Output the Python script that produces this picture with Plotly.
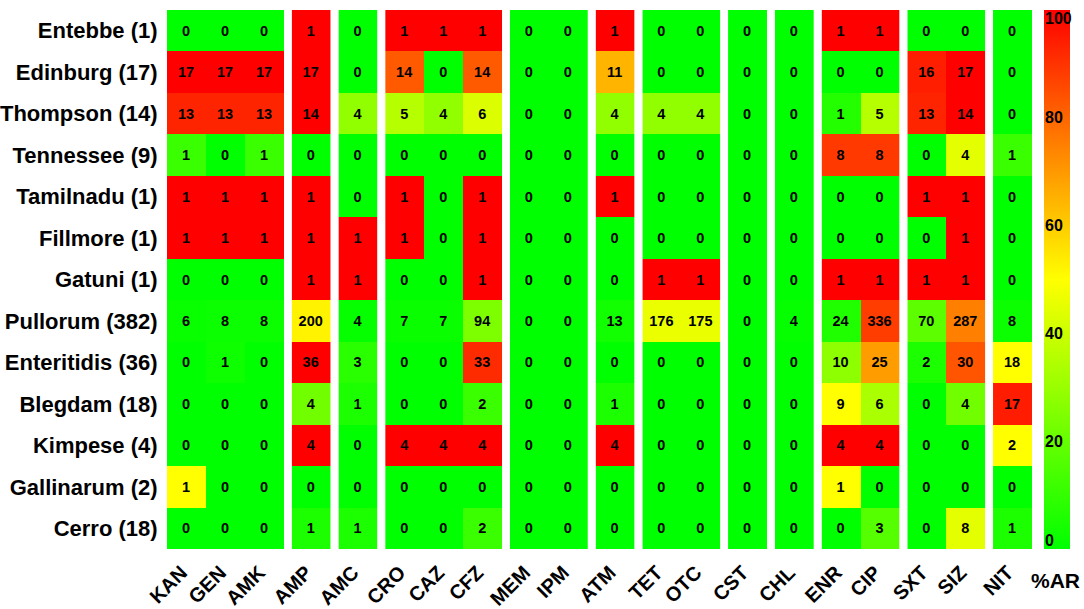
import plotly.graph_objects as go
from plotly.subplots import make_subplots

serovars = ['Entebbe', 'Edinburg', 'Thompson', 'Tennessee', 'Tamilnadu', 'Fillmore', 'Gatuni',
            'Pullorum', 'Enteritidis', 'Blegdam', 'Kimpese', 'Gallinarum', 'Cerro']
isolates = [1, 17, 14, 9, 1, 1, 1, 382, 36, 18, 4, 2, 18]

drug_groups = [['KAN', 'GEN', 'AMK'], ['AMP'], ['AMC'], ['CRO', 'CAZ', 'CFZ'], ['MEM', 'IPM'], ['ATM'],
               ['TET', 'OTC'], ['CST'], ['CHL'], ['ENR', 'CIP'], ['SXT', 'SIZ'], ['NIT']]

# resistant isolates per serovar, one column per drug
counts = [
    [0, 0, 0, 1, 0, 1, 1, 1, 0, 0, 1, 0, 0, 0, 0, 1, 1, 0, 0, 0],
    [17, 17, 17, 17, 0, 14, 0, 14, 0, 0, 11, 0, 0, 0, 0, 0, 0, 16, 17, 0],
    [13, 13, 13, 14, 4, 5, 4, 6, 0, 0, 4, 4, 4, 0, 0, 1, 5, 13, 14, 0],
    [1, 0, 1, 0, 0, 0, 0, 0, 0, 0, 0, 0, 0, 0, 0, 8, 8, 0, 4, 1],
    [1, 1, 1, 1, 0, 1, 0, 1, 0, 0, 1, 0, 0, 0, 0, 0, 0, 1, 1, 0],
    [1, 1, 1, 1, 1, 1, 0, 1, 0, 0, 0, 0, 0, 0, 0, 0, 0, 0, 1, 0],
    [0, 0, 0, 1, 1, 0, 0, 1, 0, 0, 0, 1, 1, 0, 0, 1, 1, 1, 1, 0],
    [6, 8, 8, 200, 4, 7, 7, 94, 0, 0, 13, 176, 175, 0, 4, 24, 336, 70, 287, 8],
    [0, 1, 0, 36, 3, 0, 0, 33, 0, 0, 0, 0, 0, 0, 0, 10, 25, 2, 30, 18],
    [0, 0, 0, 4, 1, 0, 0, 2, 0, 0, 1, 0, 0, 0, 0, 9, 6, 0, 4, 17],
    [0, 0, 0, 4, 0, 4, 4, 4, 0, 0, 4, 0, 0, 0, 0, 4, 4, 0, 0, 2],
    [1, 0, 0, 0, 0, 0, 0, 0, 0, 0, 0, 0, 0, 0, 0, 1, 0, 0, 0, 0],
    [0, 0, 0, 1, 1, 0, 0, 2, 0, 0, 0, 0, 0, 0, 0, 0, 3, 0, 8, 1],
]

# the 0 and 100 labels sit just inside the ends of the bar
bar_ticks = [1.5, 20, 40, 60, 80, 98.5]
bar_labels = ['0', '20', '40', '60', '80', '100']

row_labels = [f"{name} ({n})" for name, n in zip(serovars, isolates)]
percent = [[c / n * 100 for c in row] for row, n in zip(counts, isolates)]

FONT = 'Liberation Sans'

fig = make_subplots(rows=1, cols=len(drug_groups), shared_yaxes=True,
                    column_widths=[len(g) for g in drug_groups], horizontal_spacing=0.009)

start = 0
for i, group in enumerate(drug_groups):
    end = start + len(group)
    fig.add_trace(go.Heatmap(
        x=group, y=row_labels,
        z=[row[start:end] for row in percent],
        text=[row[start:end] for row in counts],
        texttemplate='<b>%{text}</b>',
        textfont=dict(family=FONT, size=14.5, color='black'),
        coloraxis='coloraxis',
    ), row=1, col=i + 1)
    start = end

fig.update_xaxes(automargin=False, showgrid=False, zeroline=False, showline=False, ticks='outside', ticklen=3,
                 tickcolor='white', tickangle=-45, ticklabelshift=-5,
                 tickfont=dict(family=FONT, size=20, color='black', weight='bold'))
fig.update_yaxes(automargin=False, showgrid=False, zeroline=False, showline=False, autorange='reversed')
fig.update_yaxes(ticks='outside', ticklen=4, tickcolor='white',
                 tickfont=dict(family=FONT, size=22, color='black', weight='bold'), row=1, col=1)

fig.add_annotation(text='<b>%AR</b>', xref='paper', yref='paper', x=1.0272, y=-0.0593, xanchor='center',
                   yanchor='middle', showarrow=False, font=dict(family=FONT, size=21, color='black'))

# colour bar labels drawn over the bar itself
for tick, label in zip(bar_ticks, bar_labels):
    fig.add_annotation(text=f'<b>{label}</b>', xref='paper', yref='paper', x=1.0156, y=tick / 100, xanchor='left',
                       yanchor='middle', showarrow=False, xshift=-1, borderpad=0,
                       font=dict(family=FONT, size=16, color='black'))

fig.update_layout(
    width=1084, height=609,
    margin=dict(l=167, r=51.5, t=10, b=59.5, pad=0),
    paper_bgcolor='white', plot_bgcolor='white',
    showlegend=False,
    coloraxis=dict(
        cmin=0, cmax=100,
        colorscale=[[0, '#00ff00'], [0.5, '#ffff00'], [1, '#ff0000']],
        colorbar=dict(x=1.0133, xanchor='left', xpad=0, ypad=0, y=0.5, yanchor='middle', len=1, thickness=26,
                      outlinewidth=0, ticks='', showticklabels=False),
    ),
)
fig.write_html("out.html", config={'displayModeBar': False}, post_script="document.body.style.margin = '0';")
